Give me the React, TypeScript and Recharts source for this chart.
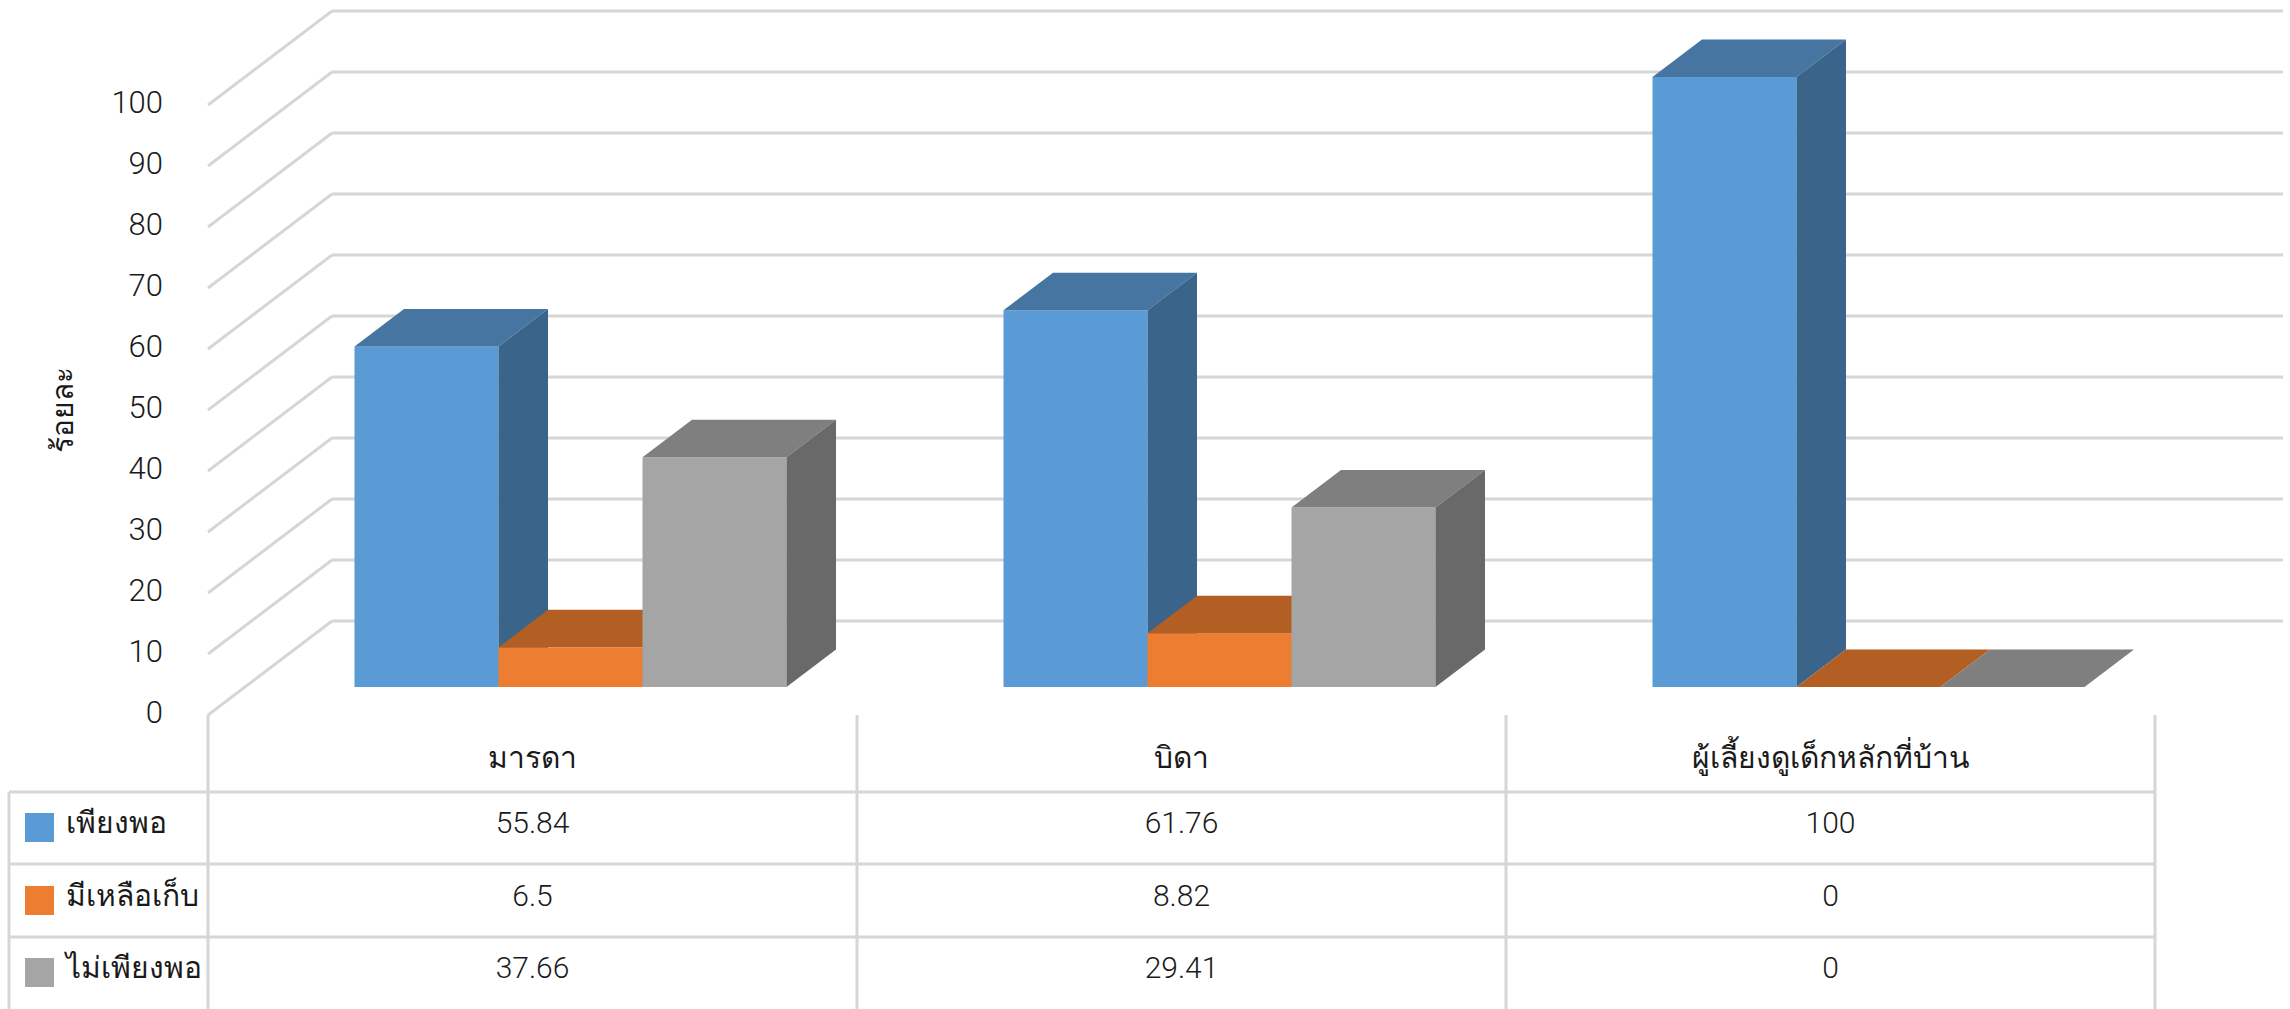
import { BarChart, Bar, XAxis, YAxis, CartesianGrid } from 'recharts';

const categories = ['มารดา', 'บิดา', 'ผู้เลี้ยงดูเด็กหลักที่บ้าน'];
const seriesNames = ['เพียงพอ', 'มีเหลือเก็บ', 'ไม่เพียงพอ'];
const enough = [55.84, 61.76, 100];
const saved = [6.5, 8.82, 0];
const notEnough = [37.66, 29.41, 0];
const valueTicks = [0, 10, 20, 30, 40, 50, 60, 70, 80, 90, 100];

const seriesValues = [enough, saved, notEnough];
const chartData = categories.map((name, i) => ({
  name,
  enough: enough[i],
  saved: saved[i],
  notEnough: notEnough[i],
}));

const FONT = 'Roboto, "Noto Sans", sans-serif';
const GRID = '#D6D6D6';
const INK = '#1a1a1a';

// fake 3D: back wall offset and where the bars stand on the floor
const WALL_DX = 124;
const WALL_DY = 94;
const BAR_DX = 37.5;
const BAR_DY = 28;
const DEPTH_X = 49.5;
const DEPTH_Y = 37.5;

const columnLines = [208, 857, 1506, 2155];
const rowLines = [792, 864, 937];
const rowTextY = [822, 895, 967];
const keyTop = [813, 886, 958];
const keyColors = ['#5B9BD5', '#ED7D31', '#A5A5A5'];

function prism(front: string, top: string, side: string) {
  return (props: any) => {
    const x = props.x + BAR_DX;
    const y = props.y - BAR_DY;
    const w = props.width;
    const h = props.height;
    const r = x + w;
    return (
      <g>
        <rect x={x} y={y} width={w} height={h} fill={front} />
        <polygon
          points={`${x},${y} ${x + DEPTH_X},${y - DEPTH_Y} ${r + DEPTH_X},${y - DEPTH_Y} ${r},${y}`}
          fill={top}
        />
        <polygon
          points={`${r},${y} ${r + DEPTH_X},${y - DEPTH_Y} ${r + DEPTH_X},${y + h - DEPTH_Y} ${r},${y + h}`}
          fill={side}
        />
      </g>
    );
  };
}

function wallLine(props: any) {
  const y = props.y1;
  return (
    <g key={props.key}>
      <line x1={208} y1={y} x2={208 + WALL_DX} y2={y - WALL_DY} stroke={GRID} strokeWidth={3} />
      <line x1={208 + WALL_DX} y1={y - WALL_DY} x2={2283} y2={y - WALL_DY} stroke={GRID} strokeWidth={3} />
    </g>
  );
}

function DataTable() {
  return (
    <g>
      {columnLines.map(x => (
        <line key={x} x1={x} y1={715} x2={x} y2={1009} stroke={GRID} strokeWidth={3} />
      ))}
      <line x1={9} y1={792} x2={9} y2={1009} stroke={GRID} strokeWidth={3} />
      {rowLines.map(y => (
        <line key={y} x1={9} y1={y} x2={2155} y2={y} stroke={GRID} strokeWidth={3} />
      ))}
      {seriesNames.map((name, r) => (
        <g key={name}>
          <rect x={25} y={keyTop[r]} width={29} height={29} fill={keyColors[r]} />
          <text x={66} y={rowTextY[r]} dy="0.36em" fontFamily={FONT} fontWeight={300} fontSize={30} fill={INK}>
            {name}
          </text>
          {seriesValues[r].map((v, c) => (
            <text
              key={c}
              x={(columnLines[c] + columnLines[c + 1]) / 2}
              y={rowTextY[r]}
              dy="0.36em"
              textAnchor="middle"
              fontFamily={FONT}
              fontWeight={300}
              fontSize={30}
              fill={INK}
            >
              {v}
            </text>
          ))}
        </g>
      ))}
    </g>
  );
}

export default function App() {
  return (
    <div style={{ position: 'absolute', left: 0, top: 0, width: 2290, height: 1009, overflow: 'hidden', background: '#fff' }}>
      <BarChart
        width={2290}
        height={1009}
        data={chartData}
        margin={{ top: 105, right: 135, bottom: 0, left: 0 }}
        barSize={144}
        barGap={0}
      >
        <CartesianGrid vertical={false} horizontal={wallLine} />
        <XAxis
          dataKey="name"
          height={294}
          axisLine={false}
          tickLine={false}
          tickMargin={26}
          interval={0}
          tick={{ fontFamily: FONT, fontWeight: 300, fontSize: 30, fill: INK }}
        />
        <YAxis
          width={208}
          domain={[0, 100]}
          ticks={valueTicks}
          interval={0}
          axisLine={false}
          tickLine={false}
          tickSize={0}
          tickMargin={45}
          tick={{ fontFamily: FONT, fontWeight: 300, fontSize: 31, fill: INK, dy: -3 }}
          label={{
            value: 'ร้อยละ',
            angle: -90,
            position: 'insideLeft',
            offset: 62,
            style: { fontFamily: FONT, fontWeight: 300, fontSize: 30, fill: INK, textAnchor: 'middle' },
          }}
        />
        <Bar dataKey="enough" name={seriesNames[0]} isAnimationActive={false} shape={prism('#5B9BD5', '#4675A1', '#3A648A')} />
        <Bar dataKey="saved" name={seriesNames[1]} isAnimationActive={false} shape={prism('#ED7D31', '#B35E23', '#99501E')} />
        <Bar dataKey="notEnough" name={seriesNames[2]} isAnimationActive={false} shape={prism('#A5A5A5', '#7F7F7F', '#696969')} />
        <DataTable />
      </BarChart>
    </div>
  );
}
